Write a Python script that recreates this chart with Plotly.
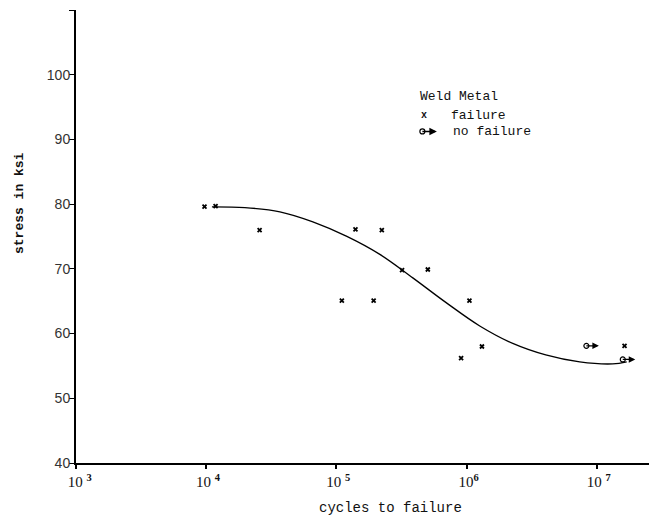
import numpy as np
import plotly.graph_objects as go

# Weld metal fatigue test results: failures
fail_cycles = [9.7e3, 1.18e4, 2.57e4, 1.10e5, 1.40e5, 1.93e5, 2.23e5,
               3.19e5, 5.03e5, 1.05e6, 9.06e5, 1.31e6, 1.63e7]
fail_stress = [79.6, 79.7, 76.0, 65.1, 76.1, 65.1, 76.0,
               69.8, 69.9, 65.1, 56.2, 58.0, 58.1]

# Run-outs (no failure)
runout_cycles = [8.3e6, 1.58e7]
runout_stress = [58.1, 56.0]

# Mean S-N curve drawn through the data
curve_cycles = [1.106e4, 1.982e4, 3.679e4, 6.59e4, 1.202e5, 2.154e5,
                3.858e5, 6.912e5, 1.26e6, 2.258e6, 4.047e6, 7.379e6,
                1.322e7, 1.693e7]
curve_stress = [79.59, 79.47, 78.82, 77.27, 75.02, 72.24,
                68.61, 64.82, 61.18, 58.48, 56.70, 55.62,
                55.31, 55.62]

x_tick_vals = [1e3, 1e4, 1e5, 1e6, 1e7]
x_tick_text = ["  10 <sup><b>3</b></sup>", " 10 <sup><b>4</b></sup>",
               " 10 <sup><b>5</b></sup>", " 10<sup><b>6</b></sup>",
               " 10 <sup><b>7</b></sup>"]
y_tick_vals = [40, 50, 60, 70, 80, 90, 100, 110]
y_tick_text = ["40", "50", "60", "70", "80", "90", "100", ""]

mono = "Liberation Mono"

fig = go.Figure()

fig.add_trace(go.Scatter(
    x=curve_cycles, y=curve_stress, mode="lines",
    line=dict(color="black", width=1.3, shape="spline", smoothing=1.0),
    hoverinfo="skip", showlegend=False))

fig.add_trace(go.Scatter(
    x=fail_cycles, y=fail_stress, mode="markers",
    marker=dict(symbol="x-thin", size=4, color="black",
                line=dict(color="black", width=1.8)),
    showlegend=False))

fig.add_trace(go.Scatter(
    x=runout_cycles, y=runout_stress, mode="markers",
    marker=dict(symbol="circle", size=5, color="white",
                line=dict(color="black", width=1.2)),
    showlegend=False))

annotations = []
# run-out arrows pointing to longer life
for cx, cy in zip(runout_cycles, runout_stress):
    annotations.append(dict(
        x=np.log10(cx), y=cy, xref="x", yref="y", text="",
        ax=14, ay=0, axref="pixel", ayref="pixel",
        showarrow=True, arrowside="start", startarrowhead=2,
        startarrowsize=1.0, arrowwidth=1.3, arrowcolor="black",
        standoff=0, startstandoff=0))

# legend block
annotations += [
    dict(x=0.597, y=0.808, xref="paper", yref="paper", text="Weld Metal",
         showarrow=False, xanchor="left", yanchor="middle",
         font=dict(family=mono, size=13, color="#111")),
    dict(x=0.6065, y=0.768, xref="paper", yref="paper", text="<b>x</b>",
         showarrow=False, xanchor="center", yanchor="middle",
         font=dict(family=mono, size=10, color="#111")),
    dict(x=0.651, y=0.768, xref="paper", yref="paper", text="failure",
         showarrow=False, xanchor="left", yanchor="middle",
         font=dict(family=mono, size=13, color="#111")),
    dict(x=0.655, y=0.732, xref="paper", yref="paper", text="no failure",
         showarrow=False, xanchor="left", yanchor="middle",
         font=dict(family=mono, size=13, color="#111")),
    dict(x=0.6045, y=0.732, xref="paper", yref="paper", text="",
         ax=16, ay=0, axref="pixel", ayref="pixel",
         showarrow=True, arrowside="start", startarrowhead=2,
         startarrowsize=1.0, arrowwidth=1.5, arrowcolor="black",
         standoff=0, startstandoff=0),
    # axis titles
    dict(x=-0.0977, y=0.574, xref="paper", yref="paper",
         text="<b>stress in ksi</b>", textangle=-90, showarrow=False,
         xanchor="center", yanchor="middle",
         font=dict(family=mono, size=13, color="#111")),
    dict(x=0.548, y=-0.099, xref="paper", yref="paper",
         text="cycles to failure", showarrow=False,
         xanchor="center", yanchor="middle",
         font=dict(family=mono, size=14, color="#111")),
]

shapes = [
    dict(type="circle", xref="paper", yref="paper",
         xsizemode="pixel", ysizemode="pixel",
         xanchor=0.6045, yanchor=0.732,
         x0=-2.5, x1=2.5, y0=-2.5, y1=2.5,
         line=dict(color="black", width=1.2), fillcolor="white"),
]

fig.update_layout(
    width=649, height=518,
    margin=dict(l=76, r=0, t=10, b=55),
    paper_bgcolor="white", plot_bgcolor="white",
    showlegend=False,
    annotations=annotations, shapes=shapes,
    xaxis=dict(
        type="log", range=[3, 7.40],
        tickvals=x_tick_vals, ticktext=x_tick_text,
        ticks="outside", ticklen=4, tickwidth=1.5, tickcolor="black",
        showline=True, linecolor="black", linewidth=2,
        showgrid=False, zeroline=False,
        tickfont=dict(family="Liberation Serif", size=15, color="#111")),
    yaxis=dict(
        range=[40, 110],
        tickvals=y_tick_vals, ticktext=y_tick_text,
        ticks="outside", ticklen=5, tickwidth=1.2, tickcolor="black",
        ticklabelstandoff=-4,
        showline=True, linecolor="black", linewidth=2,
        showgrid=False, zeroline=False,
        tickfont=dict(family="Liberation Sans", size=14, color="#333")),
)

fig.write_html("out.html")
